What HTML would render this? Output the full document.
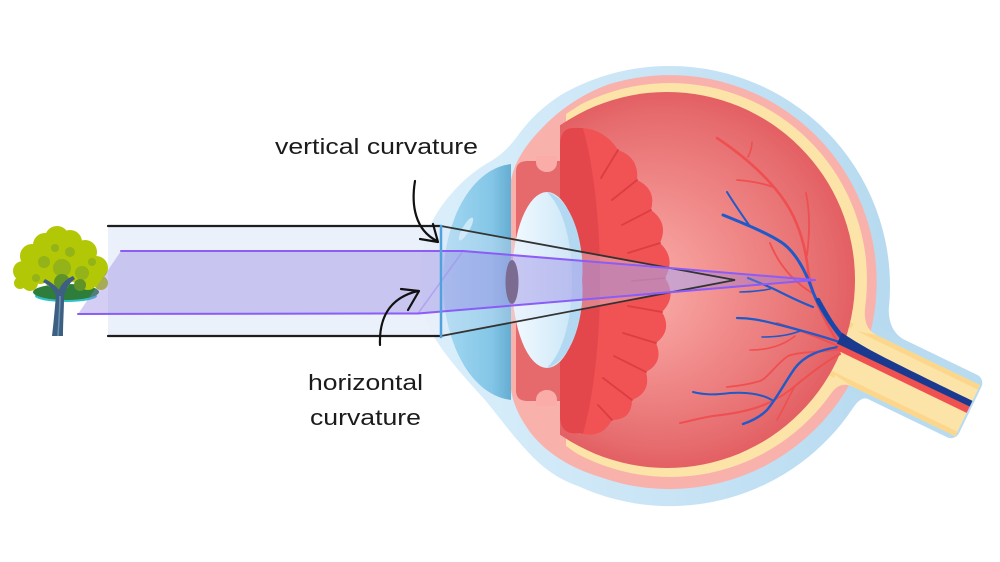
<!DOCTYPE html>
<html><head><meta charset="utf-8">
<style>
html,body{margin:0;padding:0;background:#fff;}
svg{display:block;}
text{font-family:"Liberation Sans",sans-serif;fill:#1b1b1b;}
</style></head>
<body>
<svg width="1000" height="562" viewBox="0 0 1000 562" xmlns="http://www.w3.org/2000/svg">
<defs>
 <linearGradient id="gBlue" x1="420" y1="0" x2="890" y2="0" gradientUnits="userSpaceOnUse">
   <stop offset="0" stop-color="#dbeffb"/>
   <stop offset="1" stop-color="#b7daf0"/>
 </linearGradient>
 <radialGradient id="gRed" cx="667" cy="280" r="188" fx="625" fy="290" gradientUnits="userSpaceOnUse">
   <stop offset="0" stop-color="#fbb3ae"/>
   <stop offset="0.55" stop-color="#ef8686"/>
   <stop offset="0.88" stop-color="#e66c6e"/>
   <stop offset="1" stop-color="#e35f63"/>
 </radialGradient>
 <linearGradient id="gCornea" x1="443" y1="0" x2="512" y2="0" gradientUnits="userSpaceOnUse">
   <stop offset="0" stop-color="#a2d8f1"/>
   <stop offset="0.7" stop-color="#84c6e7"/>
   <stop offset="1" stop-color="#63acd0"/>
 </linearGradient>
 <linearGradient id="gLens" x1="512" y1="0" x2="582" y2="0" gradientUnits="userSpaceOnUse">
   <stop offset="0" stop-color="#f3faff"/>
   <stop offset="0.7" stop-color="#d3ebf9"/>
   <stop offset="1" stop-color="#c2e2f6"/>
 </linearGradient>
 <clipPath id="cRight"><rect x="560" y="0" width="440" height="562"/></clipPath>
 <clipPath id="cYel"><path d="M 615,0 L 1000,0 L 1000,562 L 615,562 L 615,480 L 566,446 L 566,114 L 615,82 Z"/></clipPath>
 <clipPath id="cCornea"><rect x="0" y="0" width="511" height="562"/></clipPath>
 <clipPath id="cCil"><path d="M 575,128 Q 602.9,126.5 618,150 Q 639.3,157.5 637,180 Q 656.7,189.1 651,210 Q 669,222.8 660,243 Q 676.3,258.5 665,278 Q 677.5,296.2 662,312 Q 672.7,330.2 656,343 Q 664.2,362.1 646,372 Q 651.5,392.3 632,400 Q 631.9,419.9 612,420 Q 601.3,439.5 580,433 Q 560,436 560,416 L 560,145 Q 560,127 575,128 Z"/></clipPath>
</defs>

<!-- TREE -->
<g>
 <ellipse cx="66" cy="296" rx="31" ry="6" fill="#2fc0c9"/>
 <ellipse cx="66" cy="292" rx="33" ry="8" fill="#2f7d3a"/>
 <g fill="#b2c706">
  <circle cx="57" cy="238" r="12"/>
  <circle cx="45" cy="245" r="12"/>
  <circle cx="70" cy="242" r="12"/>
  <circle cx="85" cy="252" r="12"/>
  <circle cx="32" cy="256" r="12"/>
  <circle cx="96" cy="268" r="12"/>
  <circle cx="23" cy="271" r="10"/>
  <circle cx="20" cy="283" r="6"/>
  <circle cx="101" cy="283" r="7"/>
  <circle cx="58" cy="258" r="18"/>
  <circle cx="40" cy="270" r="14"/>
  <circle cx="78" cy="267" r="16"/>
  <circle cx="55" cy="276" r="12"/>
  <circle cx="30" cy="283" r="8"/>
  <circle cx="88" cy="281" r="9"/>
 </g>
 <g fill="#93b318">
  <circle cx="62" cy="268" r="9"/>
  <circle cx="82" cy="273" r="7"/>
  <circle cx="44" cy="262" r="6"/>
  <circle cx="70" cy="252" r="5"/>
  <circle cx="55" cy="248" r="4"/>
  <circle cx="36" cy="278" r="4"/>
  <circle cx="92" cy="262" r="4"/>
 </g>
 <circle cx="62" cy="282" r="8" fill="#5f9327"/>
 <circle cx="80" cy="285" r="6" fill="#5f9327"/>
 <path d="M52,336 C54,320 55,305 56,296 C54,290 49,285 43,282 L45,279 C51,282 56,286 59,290 C61,284 66,279 73,276 L75,279 C68,284 65,290 64,298 C64,310 63,322 63,336 Z" fill="#3d5f82"/>
 <path d="M58,336 C59,320 60,306 60,296" stroke="#6a93b3" stroke-width="1.5" fill="none"/>
</g>

<!-- EYE -->
<path d="M 670,66 A 220 220 0 0 1 888.7,310 Q 889,330 902.5,338.7 L 880,380 L 867.8,399 Q 861,396 853,408 A 220 220 0 0 1 578,486 C 555,478 540,465 528,452 C 512,435 500,418 485,400 C 465,378 445,356 433,335 C 418,308 416,252 432,222 C 444,198 466,176 486,164 C 497,158 507,150 516,138 C 530,118 548,102 566,92 A 220 220 0 0 1 670,66 Z" fill="url(#gBlue)"/>
<g transform="rotate(25.8)">
 <rect x="870" y="-87.8" width="182" height="69.3" rx="9" fill="#b9dbf0"/>
</g>

<path d="M 613,83 A 207 207 0 1 1 600,477 C 570,468 545,452 530,432 C 518,415 511,400 510,380 L 510,190 C 511,165 525,145 545,125 C 565,105 590,90 613,83 Z" fill="#f9b1ac"/>

<circle cx="670" cy="280" r="197" fill="#fce3a8" clip-path="url(#cYel)"/>
<g transform="rotate(25.8)">
 <rect x="880" y="-79.8" width="170" height="56.8" fill="#fce3a8"/>
 <rect x="880" y="-79.8" width="170" height="5" fill="#fcd68a"/>
 <rect x="880" y="-28" width="170" height="5" fill="#fcd68a"/>
</g>
<path d="M 865.4,305 Q 862,328 876.5,335 L 850,330 Z" fill="#fce3a8"/>
<path d="M 851.8,386.2 Q 839,381 830,395 L 835,375 Z" fill="#fce3a8"/>

<circle cx="667" cy="280" r="188" fill="url(#gRed)" clip-path="url(#cRight)"/>

<path d="M 516,172 C 516,164 520,161 528,161 L 562,161 L 562,401 L 528,401 C 520,401 516,398 516,390 Z" fill="#e6696c"/>
<path d="M 536,156 L 536,162 C 536,168 541,172 547,172 C 553,172 557,168 557,162 L 557,156 Z" fill="#f9aca8"/>
<path d="M 536,406 L 536,400 C 536,394 541,390 547,390 C 553,390 557,394 557,400 L 557,406 Z" fill="#f9aca8"/>

<g clip-path="url(#cCornea)">
 <ellipse cx="515" cy="282" rx="72" ry="118" fill="url(#gCornea)"/>
</g>
<ellipse cx="466" cy="229" rx="3.5" ry="13" transform="rotate(30 466 229)" fill="#d5eefa" opacity="0.85"/>

<path d="M 575,128 Q 602.9,126.5 618,150 Q 639.3,157.5 637,180 Q 656.7,189.1 651,210 Q 669,222.8 660,243 Q 676.3,258.5 665,278 Q 677.5,296.2 662,312 Q 672.7,330.2 656,343 Q 664.2,362.1 646,372 Q 651.5,392.3 632,400 Q 631.9,419.9 612,420 Q 601.3,439.5 580,433 Q 560,436 560,416 L 560,145 Q 560,127 575,128 Z" fill="#f15253"/>
<g clip-path="url(#cCil)">
 <ellipse cx="552" cy="281" rx="48" ry="200" fill="#e4474b"/>
</g>
<g stroke="#d83a40" stroke-width="1.8" stroke-linecap="round" fill="none" opacity="0.85">
 <path d="M618,150 L601,178"/>
 <path d="M637,180 L612,200"/>
 <path d="M651,210 L622,225"/>
 <path d="M660,243 L628,253"/>
 <path d="M665,278 L632,281"/>
 <path d="M662,312 L628,306"/>
 <path d="M656,343 L623,333"/>
 <path d="M646,372 L614,356"/>
 <path d="M632,400 L603,378"/>
 <path d="M612,420 L598,405"/>
</g>

<ellipse cx="547" cy="280" rx="35" ry="88" fill="url(#gLens)"/>
<path d="M 547,192 C 575,200 585,250 582,280 C 585,310 575,360 547,368 C 565,350 572,315 572,280 C 572,245 565,210 547,192 Z" fill="#b3d9f2"/>

<g fill="none" stroke="#ef4f50" stroke-linecap="round">
 <path d="M 842,350 C 826,322 812,300 808,270 C 805,242 796,216 781,196 C 766,176 744,156 717,138" stroke-width="2.6"/>
 <path d="M 773,187 C 762,183 750,181 737,180" stroke-width="1.8"/>
 <path d="M 748,157 C 751,151 752,147 752,142" stroke-width="1.6"/>
 <path d="M 807,255 C 810,232 810,212 806,193" stroke-width="1.8"/>
 <path d="M 812,293 C 796,283 780,268 770,243" stroke-width="1.8"/>
 <path d="M 838,346 C 820,338 800,330 777,323" stroke-width="2"/>
 <path d="M 795,336 C 785,344 770,350 750,350" stroke-width="1.6"/>
 <path d="M 837,350 C 815,352 798,352 788,356 C 775,365 768,378 760,381 C 750,384 738,386 727,387" stroke-width="1.8"/>
 <path d="M 840,354 C 820,365 805,378 790,390 C 770,405 750,412 713,416 C 700,418 690,421 680,423" stroke-width="2"/>
 <path d="M 795,386 C 788,398 783,410 777,420" stroke-width="1.6"/>
</g>
<g fill="none" stroke="#2059c8" stroke-linecap="round">
 <path d="M 846,345 C 832,326 820,310 813,292 C 806,272 796,252 781,242 C 765,232 745,224 723,215" stroke-width="3"/>
 <path d="M 749,225 C 742,215 735,205 727,192" stroke-width="2"/>
 <path d="M 813,307 C 800,302 790,297 780,292 C 770,287 760,283 748,278" stroke-width="2.2"/>
 <path d="M 770,289 C 760,291 752,292 740,292" stroke-width="1.6"/>
 <path d="M 842,343 C 822,336 800,330 776,324 C 760,320 750,318 737,318" stroke-width="2.2"/>
 <path d="M 800,331 C 790,335 776,337 762,337" stroke-width="1.6"/>
 <path d="M 838,347 C 820,350 805,355 795,368 C 785,382 777,398 767,410 C 760,417 752,421 743,424" stroke-width="2.4"/>
 <path d="M 772,400 C 760,393 745,392 730,393 C 715,395 705,395 693,392" stroke-width="2"/>
</g>
<path d="M 818,300 C 828,318 837,334 852,346" stroke="#1a46a8" stroke-width="4.5" fill="none" stroke-linecap="round"/>

<g transform="rotate(25.8)">
 <rect x="905" y="-56" width="145" height="7" fill="#ef5050"/>
 <path d="M 903,-67 C 930,-63 950,-62.4 1050,-62.4 L 1050,-56 L 903,-55 Z" fill="#1a3a8f"/>
</g>

<!-- BEAM -->
<rect x="108" y="226" width="333" height="110" fill="#e8eef9" opacity="0.85"/>
<polygon points="441,226 735,280 441,336" fill="rgb(220,232,250)" fill-opacity="0.35"/>
<polygon points="121,251 463,251 815,280 418,313.5 78,314" fill="rgb(145,125,225)" fill-opacity="0.38"/>
<ellipse cx="512" cy="282" rx="6.5" ry="22" fill="#7b6b90"/>

<g fill="none" stroke-linecap="round">
 <path d="M 108,226 L 441,226" stroke="#1e1e1e" stroke-width="2.2"/>
 <path d="M 108,336 L 441,336" stroke="#1e1e1e" stroke-width="2.2"/>
 <path d="M 441,226 L 735,280 L 441,336" stroke="#333" stroke-width="1.8" stroke-linejoin="miter"/>
 <path d="M 418,313.5 L 463,251" stroke="#a58cf0" stroke-width="1.5" opacity="0.6"/>
 <path d="M 121,251 L 463,251 L 815,280" stroke="#8b5cf6" stroke-width="2"/>
 <path d="M 78,314 L 418,313.5 L 815,280" stroke="#8b5cf6" stroke-width="2"/>
 <path d="M 441,226 L 441,337" stroke="#4ea3dc" stroke-width="2.5"/>
</g>

<g fill="none" stroke="#111" stroke-width="2.2" stroke-linecap="round" stroke-linejoin="round">
 <path d="M 415,181 C 411,205 415,230 437,241"/>
 <path d="M 420,239 L 438,242 L 433,224"/>
 <path d="M 380,345 C 379,320 388,298 418,291"/>
 <path d="M 401,289 L 419,291 L 408,310"/>
</g>

<text x="275" y="154" font-size="22" textLength="203" lengthAdjust="spacingAndGlyphs">vertical curvature</text>
<text x="308" y="390" font-size="22" textLength="115" lengthAdjust="spacingAndGlyphs">horizontal</text>
<text x="310" y="425" font-size="22" textLength="111" lengthAdjust="spacingAndGlyphs">curvature</text>
</svg>
</body></html>
